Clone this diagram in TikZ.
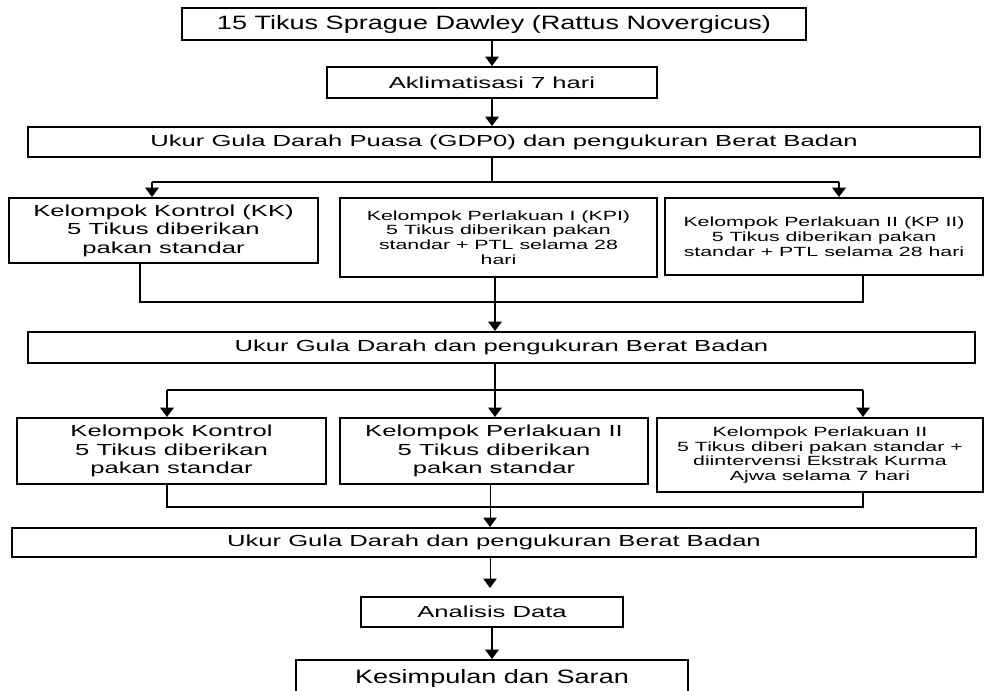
\documentclass[tikz,border=0pt]{standalone}
\usepackage{fontspec}
\setmainfont{Liberation Sans}
\newfontfamily\widefont{Liberation Sans}[FakeStretch=1.6]
\newfontfamily\titlefont{Liberation Sans}[FakeStretch=1.4]
\usetikzlibrary{arrows.meta,positioning}

\begin{document}
\begin{tikzpicture}[x=0.75pt,y=-0.75pt,
  box/.style={draw, line width=1.5pt, align=center, inner sep=0pt, font=\widefont\fontsize{12}{13.9}\selectfont},
  smallbox/.style={box, font=\widefont\fontsize{10}{11.1}\selectfont},
  bigbox/.style={box, font=\titlefont\fontsize{14.5}{16}\selectfont},
  flow/.style={line width=1.5pt},
  arr/.style={flow, -{Triangle[width=10pt,length=7pt]}},
  thinarr/.style={line width=0.75pt, -{Triangle[width=10pt,length=7pt]}}]
\useasboundingbox (0,0) rectangle (984,690);

% Persiapan
\node[bigbox, minimum width=468pt, minimum height=24pt] (tikus) at (494,24) {15 Tikus Sprague Dawley (Rattus Novergicus)};
\node[box, minimum width=247.5pt, minimum height=23.25pt] (aklim) at (492,82.5) {Aklimatisasi 7 hari};
\node[box, minimum width=714pt, minimum height=22.5pt] (gdp) at (504,142) {Ukur Gula Darah Puasa (GDP0) dan pengukuran Berat Badan};
\draw[arr] (tikus.south -| aklim) -- (aklim);
\draw[arr] (aklim.south) -- (aklim.south |- gdp.north);

% Kelompok tahap pertama
\node[box, minimum width=231.75pt, minimum height=48.75pt] (kk1) at (163.5,230.5) {Kelompok Kontrol (KK)\\5 Tikus diberikan\\pakan standar};
\node[smallbox, minimum width=237.75pt, minimum height=59.25pt] (kp1) at (498.5,237.5) {Kelompok Perlakuan I (KPI)\\5 Tikus diberikan pakan\\standar + PTL selama 28\\hari};
\node[smallbox, minimum width=238.5pt, minimum height=57.75pt] (kp2) at (824,236.5) {Kelompok Perlakuan II (KP II)\\5 Tikus diberikan pakan\\standar + PTL selama 28 hari};
\coordinate (s1) at (492,182);
\coordinate (s1l) at (152,182);
\coordinate (s1r) at (839,182);
\draw[flow] (gdp.south -| s1) -- (s1);
\draw[flow] (s1l) -- (s1r);
\draw[arr] (s1l) -- (kk1.north -| s1l);
\draw[arr] (s1r) -- (kp2.north -| s1r);

\node[box, minimum width=710.25pt, minimum height=23.25pt] (gdp2) at (501.5,347.5) {Ukur Gula Darah dan pengukuran Berat Badan};
\coordinate (j1l) at (140,302);
\coordinate (j1r) at (863,302);
\coordinate (m1) at (495,302);
\draw[flow] (kk1.south -| j1l) -- (j1l) -- (j1r) -- (kp2.south -| j1r);
\draw[arr] (kp1.south -| m1) -- (gdp2.north -| m1);

% Kelompok tahap kedua
\node[box, minimum width=231.75pt, minimum height=49.5pt] (kk2) at (171.5,451) {Kelompok Kontrol\\5 Tikus diberikan\\pakan standar};
\node[box, minimum width=231pt, minimum height=49.5pt] (kp3) at (494,451) {Kelompok Perlakuan II\\5 Tikus diberikan\\pakan standar};
\node[smallbox, minimum width=244.5pt, minimum height=55.5pt] (kp4) at (820,455) {Kelompok Perlakuan II\\5 Tikus diberi pakan standar +\\diintervensi Ekstrak Kurma\\Ajwa selama 7 hari};
\coordinate (s2) at (495,390);
\coordinate (s2l) at (167,390);
\coordinate (s2r) at (863,390);
\draw[flow] (gdp2.south -| s2) -- (s2);
\draw[flow] (s2l) -- (s2r);
\draw[arr] (s2l) -- (kk2.north -| s2l);
\draw[arr] (s2) -- (kp3.north -| s2);
\draw[arr] (s2r) -- (kp4.north -| s2r);

% Akhir
\node[box, minimum width=723pt, minimum height=21.75pt] (gdp3) at (494,542.5) {Ukur Gula Darah dan pengukuran Berat Badan};
\node[box, minimum width=196.5pt, minimum height=22.5pt] (analisis) at (492,612) {Analisis Data};
\node[bigbox, minimum width=294pt, minimum height=27pt] (simpul) at (492,678) {Kesimpulan dan Saran};
\coordinate (j2l) at (167,507);
\coordinate (j2r) at (863,507);
\coordinate (m2) at (490,507);
\draw[flow] (kk2.south -| j2l) -- (j2l) -- (j2r) -- (kp4.south -| j2r);
\draw[thinarr] (kp3.south -| m2) -- (gdp3.north -| m2);
\draw[thinarr, shorten >=6pt] (gdp3.south -| m2) -- (analisis.north -| m2);
\draw[arr] (analisis) -- (simpul);
\end{tikzpicture}
\end{document}
